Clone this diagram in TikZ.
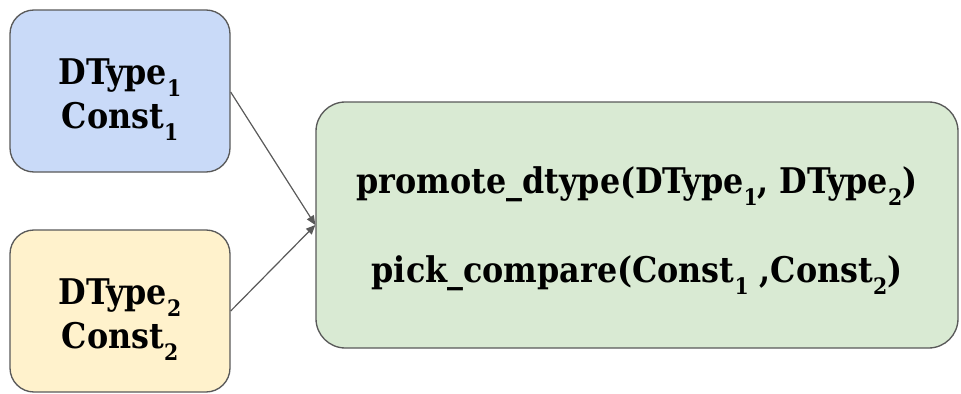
\documentclass[tikz,border=0pt]{standalone}
\usepackage{fontspec}
\setmainfont{DejaVu Serif Condensed}
\usepackage{tikz}
\usetikzlibrary{positioning,arrows.meta}

\definecolor{inblue}{HTML}{C9DAF8}
\definecolor{inyellow}{HTML}{FFF2CC}
\definecolor{outgreen}{HTML}{D9EAD3}
\definecolor{edgegray}{HTML}{595959}

\newcommand{\lowidx}[1]{\raisebox{-9pt}{\fontsize{17pt}{17pt}\selectfont #1}}
\newcommand{\topstrut}[1]{\rule{0pt}{#1}}

\begin{document}
\begin{tikzpicture}[
  x=0.75pt, y=-0.75pt,
  >={Triangle[length=7pt,width=6pt]},
  inbox/.style={draw=edgegray, line width=1pt, rounded corners=18pt,
                minimum width=165pt, minimum height=121.5pt, align=center,
                font=\bfseries\fontsize{26.5pt}{33pt}\selectfont},
  opbox/.style={draw=edgegray, line width=1pt, rounded corners=22pt,
                minimum width=481.5pt, minimum height=184.5pt, align=center,
                font=\bfseries\fontsize{26.5pt}{67pt}\selectfont},
  link/.style={->, draw=edgegray, line width=0.9pt}]

  \useasboundingbox (0,0) rectangle (961,393);

  \node[inbox, fill=inblue] (dt1) at (120,91)
    {\topstrut{32pt}DType\lowidx{1}\\Const\lowidx{1}};
  \node[inbox, fill=inyellow] (dt2) at (120,311)
    {\topstrut{32pt}DType\lowidx{2}\\Const\lowidx{2}};

  \node[opbox, fill=outgreen] (op) at (637,225)
    {\topstrut{28pt}promote\_dtype(DType\lowidx{1}, DType\lowidx{2})\\
     pick\_compare(Const\lowidx{1} ,Const\lowidx{2})};

  \draw[link] (dt1.east) ++(0,1) -- (op.west);
  \draw[link] (dt2.east) -- (op.west);
\end{tikzpicture}
\end{document}
